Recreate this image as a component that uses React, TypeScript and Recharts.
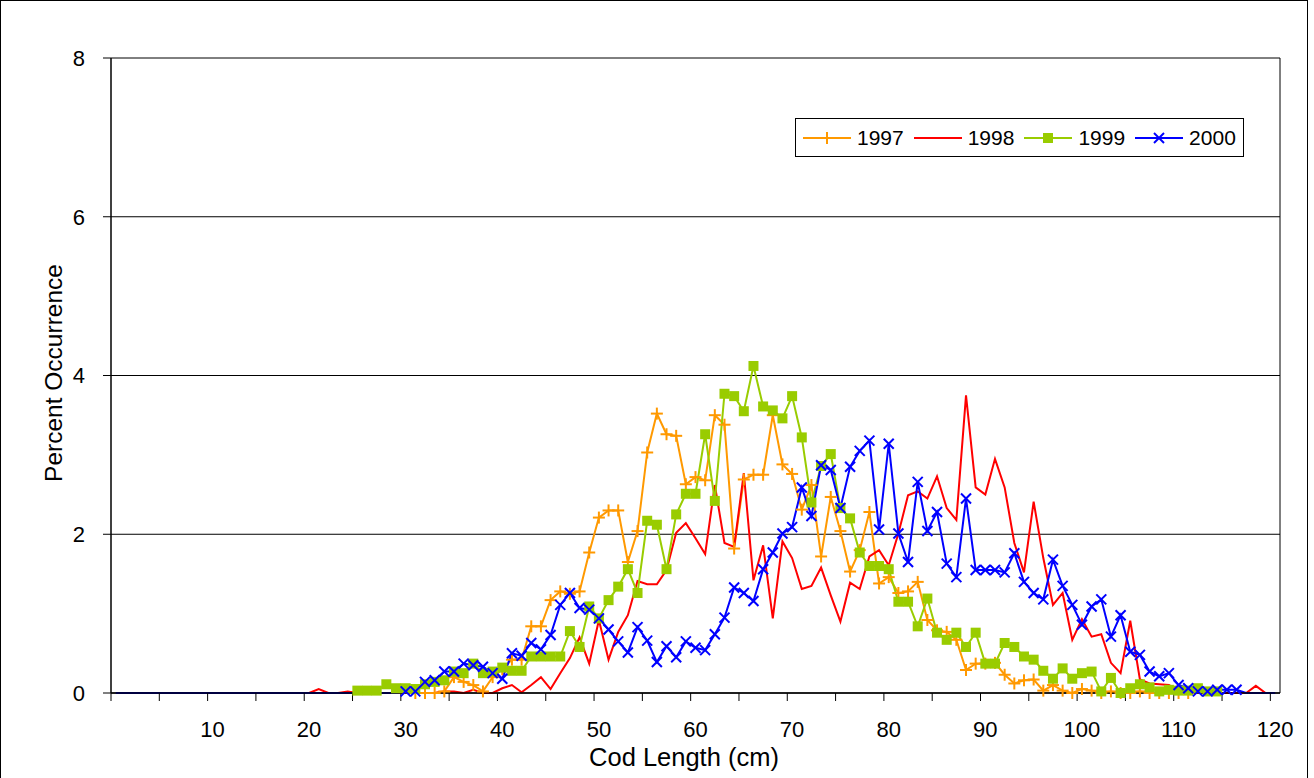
import React from "react"
import { LineChart, Line, XAxis, YAxis, CartesianGrid, ReferenceLine } from "recharts"

const FONT = "'Liberation Sans', Arial, sans-serif"

// categories: cod length in cm, 0..120
const lengths = Array.from({ length: 121 }, (_, i) => i)
const xTickLabels = [10, 20, 30, 40, 50, 60, 70, 80, 90, 100, 110, 120]
// tick marks sit between categories, every 5 cm
const xTickMarks = Array.from({ length: 25 }, (_, i) => i * 5 - 0.5)
const yTicks = [0, 2, 4, 6, 8]

const start1997 = 31
const pct1997 = [
  0, 0, 0, 0.02, 0.2, 0.14, 0.1, 0.02, 0.2, 0.3,
  0.42, 0.42, 0.84, 0.84, 1.17, 1.28, 1.25, 1.28, 1.77, 2.21,
  2.3, 2.3, 1.65, 2.04, 3.03, 3.52, 3.26, 3.24, 2.63, 2.72,
  2.68, 3.5, 3.38, 1.82, 2.69, 2.75, 2.75, 3.5, 2.88, 2.76,
  2.31, 2.62, 1.72, 2.47, 2.04, 1.53, 1.8, 2.28, 1.38, 1.46,
  1.26, 1.28, 1.4, 0.92, 0.79, 0.77, 0.67, 0.29, 0.37, 0.37,
  0.38, 0.23, 0.12, 0.16, 0.17, 0.03, 0.1, 0.03, 0, 0.05,
  0.03, 0, 0.02, 0, 0, 0.02, 0, 0, 0, 0, 0,
]

const start1998 = 20
const pct1998 = [
  0, 0.05, 0, 0, 0.02, 0, 0, 0, 0, 0,
  0, 0, 0, 0, 0.02, 0.02, 0, 0.04, 0, 0,
  0.06, 0.1, 0.01, 0.1, 0.2, 0.05, 0.25, 0.44, 0.7, 0.37,
  0.92, 0.42, 0.77, 0.98, 1.41, 1.37, 1.37, 1.55, 2.02, 2.14,
  1.95, 1.75, 2.62, 1.89, 1.84, 2.77, 1.42, 1.86, 0.94, 1.91,
  1.7, 1.31, 1.35, 1.58, 1.23, 0.9, 1.39, 1.31, 1.72, 1.8,
  1.61, 2.01, 2.49, 2.54, 2.45, 2.73, 2.33, 2.18, 3.75, 2.59,
  2.5, 2.95, 2.59, 1.89, 1.52, 2.41, 1.7, 1.11, 1.26, 0.67,
  0.93, 0.71, 0.74, 0.38, 0.25, 0.91, 0.17, 0.12, 0.11, 0.1,
  0.03, 0, 0, 0, 0, 0, 0, 0, 0.09, 0,
]

const start1999 = 25
const pct1999 = [
  0.03, 0.03, 0.03, 0.11, 0.06,
  0.06, 0.05, 0.11, 0.14, 0.16, 0.27, 0.25, 0.37, 0.25, 0.27,
  0.32, 0.28, 0.28, 0.46, 0.46, 0.46, 0.46, 0.78, 0.58, 1.09,
  0.94, 1.17, 1.34, 1.56, 1.26, 2.17, 2.12, 1.56, 2.25, 2.51,
  2.51, 3.26, 2.42, 3.77, 3.74, 3.55, 4.12, 3.61, 3.56, 3.46,
  3.74, 3.22, 2.4, 2.86, 3.01, 2.33, 2.2, 1.77, 1.6, 1.6,
  1.56, 1.15, 1.15, 0.84, 1.19, 0.76, 0.67, 0.76, 0.58, 0.76,
  0.37, 0.37, 0.63, 0.58, 0.46, 0.42, 0.28, 0.18, 0.31, 0.18,
  0.25, 0.27, 0.02, 0.19, 0, 0.06, 0.11, 0.07, 0.02, 0.04,
  0.03, 0.03, 0.06, 0.02, 0.02,
]

// 2000: empty cells are plotted as zero (no marker)
const start2000 = 0
const pct2000: (number | null)[] = [
  ...Array(30).fill(null),
  0.02, 0.02, 0.14, 0.16, 0.27, 0.27, 0.37, 0.35, 0.33, 0.25,
  0.18, 0.5, 0.47, 0.63, 0.55, 0.73, 1.11, 1.26, 1.07, 1.05,
  0.94, 0.8, 0.65, 0.51, 0.83, 0.66, 0.39, 0.59, 0.45, 0.65,
  0.57, 0.54, 0.74, 0.95, 1.33, 1.26, 1.16, 1.56, 1.77, 2.01,
  2.09, 2.59, 2.23, 2.87, 2.81, 2.33, 2.85, 3.05, 3.18, 2.06,
  3.14, 2.01, 1.65, 2.66, 2.04, 2.28, 1.63, 1.46, 2.45, 1.55,
  1.55, 1.55, 1.52, 1.76, 1.4, 1.26, 1.18, 1.68, 1.35, 1.11,
  0.86, 1.09, 1.18, 0.71, 0.98, 0.52, 0.48, 0.27, 0.21, 0.25,
  0.1, 0.06, 0.02, 0.02, 0.04, 0.04, 0.04,
  null, null, null, null,
]

const C1997 = "#FF9900"
const C1998 = "#FF0000"
const C1999 = "#99CC00"
const C2000 = "#0000FF"

const pick = (start: number, arr: (number | null)[], c: number) => {
  const v = arr[c - start]
  return v === undefined ? null : v
}

const data = lengths.map((c) => {
  const v2000 = pick(start2000, pct2000, c)
  return {
    c,
    y1997: pick(start1997, pct1997, c),
    y1998: pick(start1998, pct1998, c),
    y1999: pick(start1999, pct1999, c),
    y2000: v2000 === null ? 0 : v2000,
    blank2000: v2000 === null,
  }
})

const PLOT_W = 1169
const HALF_CAT = PLOT_W / lengths.length / 2

// tick mark at category boundary, label centred on the category to its right
const XTick = (props: any) => {
  const { x, y, payload } = props
  const c = payload.value + 0.5
  if (!xTickLabels.includes(c)) return <g />
  return (
    <text x={x + HALF_CAT} y={y} dy="0.71em" textAnchor="middle" fontSize={22} fontFamily={FONT} fill="#000">
      {c}
    </text>
  )
}

const PlusDot = (props: any) => {
  const { cx, cy, index } = props
  if (cx == null || cy == null || props.value == null) return <g key={`p${index}`} />
  return (
    <g key={`p${index}`} stroke={C1997} strokeWidth={2}>
      <line x1={cx - 6} y1={cy} x2={cx + 6} y2={cy} />
      <line x1={cx} y1={cy - 6} x2={cx} y2={cy + 6} />
    </g>
  )
}

const SquareDot = (props: any) => {
  const { cx, cy, index } = props
  if (cx == null || cy == null || props.value == null) return <g key={`s${index}`} />
  return <rect key={`s${index}`} x={cx - 5} y={cy - 5} width={10} height={10} fill={C1999} />
}

const CrossDot = (props: any) => {
  const { cx, cy, index, payload } = props
  if (cx == null || cy == null || payload?.blank2000) return <g key={`x${index}`} />
  return (
    <g key={`x${index}`} stroke={C2000} strokeWidth={2}>
      <line x1={cx - 5} y1={cy - 5} x2={cx + 5} y2={cy + 5} />
      <line x1={cx - 5} y1={cy + 5} x2={cx + 5} y2={cy - 5} />
    </g>
  )
}

const legendItems = [
  { name: "1997", color: C1997, mark: "plus" },
  { name: "1998", color: C1998, mark: "none" },
  { name: "1999", color: C1999, mark: "square" },
  { name: "2000", color: C2000, mark: "cross" },
]

function LegendBox() {
  return (
    <div
      style={{
        position: "absolute",
        left: 795,
        top: 118,
        width: 449,
        height: 39,
        border: "1px solid #000",
        background: "#fff",
        boxSizing: "border-box",
        fontFamily: FONT,
      }}
    >
      {legendItems.map((it, i) => (
        <div key={it.name} style={{ position: "absolute", left: 7 + i * 110.7, top: 0, height: 37, display: "flex", alignItems: "center" }}>
          <svg width={48} height={20}>
            <line x1={0} y1={10} x2={48} y2={10} stroke={it.color} strokeWidth={2} />
            {it.mark === "plus" && (
              <g stroke={it.color} strokeWidth={2}>
                <line x1={18} y1={10} x2={30} y2={10} />
                <line x1={24} y1={4} x2={24} y2={16} />
              </g>
            )}
            {it.mark === "square" && <rect x={19} y={5} width={10} height={10} fill={it.color} />}
            {it.mark === "cross" && (
              <g stroke={it.color} strokeWidth={2}>
                <line x1={19} y1={5} x2={29} y2={15} />
                <line x1={19} y1={15} x2={29} y2={5} />
              </g>
            )}
          </svg>
          <span style={{ fontSize: 21, marginLeft: 6, color: "#000" }}>{it.name}</span>
        </div>
      ))}
    </div>
  )
}

export default function App() {
  const tickStyle = { fontSize: 22, fill: "#000", fontFamily: FONT }
  return (
    <div style={{ position: "absolute", left: 0, top: 0, width: 1314, height: 778, background: "#fff", overflow: "hidden" }}>
      <LineChart width={1306} height={778} data={data} margin={{ top: 58, right: 26, bottom: 35, left: 51 }}>
        <CartesianGrid vertical={false} stroke="#000" strokeWidth={1} />
        <XAxis
          type="number"
          dataKey="c"
          domain={[-0.5, 120.5]}
          ticks={xTickMarks}
          interval={0}
          tickSize={8}
          tickMargin={20}
          height={50}
          axisLine={{ stroke: "#000", strokeWidth: 1.5 }}
          tickLine={{ stroke: "#000" }}
          tick={XTick}
        />
        <YAxis
          type="number"
          domain={[0, 8]}
          ticks={yTicks}
          width={60}
          tickSize={8}
          tickMargin={18}
          axisLine={{ stroke: "#000", strokeWidth: 1.5 }}
          tickLine={{ stroke: "#000" }}
          tick={tickStyle}
        />
        <ReferenceLine x={120.5} stroke="#000" />
        <Line type="linear" dataKey="y1997" stroke={C1997} strokeWidth={2} dot={PlusDot} activeDot={false} isAnimationActive={false} />
        <Line type="linear" dataKey="y1998" stroke={C1998} strokeWidth={2} dot={false} activeDot={false} isAnimationActive={false} />
        <Line type="linear" dataKey="y1999" stroke={C1999} strokeWidth={2} dot={SquareDot} activeDot={false} isAnimationActive={false} />
        <Line type="linear" dataKey="y2000" stroke={C2000} strokeWidth={2} dot={CrossDot} activeDot={false} isAnimationActive={false} />
        <text x={62} y={373} transform="rotate(-90 62 373)" textAnchor="middle" fontSize={24.5} fontFamily={FONT} fill="#000">
          Percent Occurrence
        </text>
        <text x={684} y={766} textAnchor="middle" fontSize={25.5} fontFamily={FONT} fill="#000">
          Cod Length (cm)
        </text>
      </LineChart>
      <LegendBox />
      <div
        style={{
          position: "absolute",
          left: 0,
          top: 0,
          width: 1306,
          height: 800,
          borderLeft: "1px solid #000",
          borderTop: "1px solid #000",
          borderRight: "1px solid #000",
          pointerEvents: "none",
        }}
      />
    </div>
  )
}
